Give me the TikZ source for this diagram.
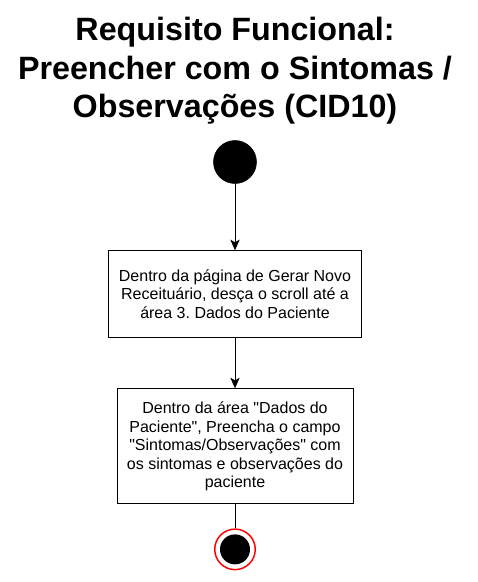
\documentclass[tikz,border=0pt]{standalone}
\usepackage{fontspec}
\setmainfont{Liberation Sans}[Ligatures=TeXOff]
\usetikzlibrary{arrows.meta, positioning}
\frenchspacing

\begin{document}
\begin{tikzpicture}[x=0.75pt, y=-0.75pt,
    passo/.style={draw, line width=0.75pt, inner sep=0pt, align=center,
      font=\fontsize{12}{13.9}\selectfont},
    seta/.style={-{Stealth[length=8pt, width=7pt, inset=2pt]}, line width=0.75pt}]
    \useasboundingbox (0,0) rectangle (478,582);

    \node[anchor=north, align=center, inner sep=0pt,
      font=\bfseries\fontsize{24.2}{29}\selectfont] (titulo) at (235,17)
      {Requisito Funcional:\\Preencher com o Sintomas /\\Observações (CID10)};

    \node[draw, circle, fill=black, minimum size=32.25pt, inner sep=0pt] (inicio) at (235,162) {};

    \node[passo, minimum width=189.75pt, minimum height=64.9pt, below=49.9pt of inicio] (passo1)
      {Dentro da página de Gerar Novo\\Receituário, desça o scroll até a\\área 3. Dados do Paciente};
    \node[passo, minimum width=177pt, minimum height=86.25pt, below=37.9pt of passo1] (passo2)
      {Dentro da área "Dados do\\Paciente", Preencha o campo\\"Sintomas/Observações" com\\os sintomas e observações do\\paciente};

    \node[draw=red, circle, line width=1.1pt, minimum size=30.4pt, inner sep=0pt, below=18pt of passo2] (fim) {};
    \node[circle, fill=black, minimum size=22.5pt, inner sep=0pt] (fimmiolo) at (fim) {};

    \draw[seta] (inicio) -- (passo1);
    \draw[seta] (passo1) -- (passo2);
    \draw[line width=0.75pt] (passo2) -- (fim);
  \end{tikzpicture}
\end{document}
